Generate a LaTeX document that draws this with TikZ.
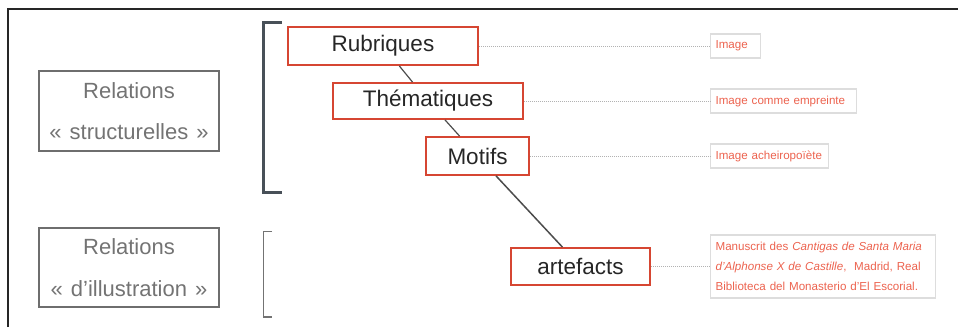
\documentclass[tikz,border=0pt]{standalone}
\usepackage{fontspec}
\setmainfont{Liberation Sans}
\usetikzlibrary{positioning}

\definecolor{boxred}{RGB}{214,70,50}
\definecolor{notered}{RGB}{236,98,78}
\definecolor{notegray}{RGB}{221,221,221}
\definecolor{relgray}{RGB}{110,110,110}
\definecolor{bracketgray}{RGB}{72,80,88}

\begin{document}
\begin{tikzpicture}[x=1pt, y=-1pt,
    % Styles
    level/.style={draw=boxred, line width=1.8pt, inner sep=0pt, minimum height=38pt, text=black!85, font=\fontsize{22.5}{26}\selectfont},
    relation/.style={draw=relgray, line width=1.5pt, minimum width=180pt, minimum height=80pt, align=center, text=black!55, font=\fontsize{22}{41.6}\selectfont},
    note/.style={draw=notegray, line width=1.2pt, anchor=west, inner xsep=5pt, inner ysep=0pt, minimum height=24pt, align=left, text=notered, font=\fontsize{11.6}{19.7}\selectfont},
    link/.style={draw=black!70, line width=1.2pt},
    dotted-link/.style={draw=black!30, line width=0.8pt, dash pattern=on 1pt off 1pt},
]
\useasboundingbox (0,0) rectangle (958,327);

% Frame
\draw[black!85, line width=1.3pt] (8,327) -- (8,9) -- (958,9);

% Relation boxes
\node[relation] (structure) at (129,111) {Relations\\«\hspace{8pt}structurelles\hspace{8pt}»};
\node[relation, minimum height=79pt] (illustration) at (129,267.5) {Relations\\«\hspace{8pt}d’illustration\hspace{8pt}»};

% Brackets
\draw[bracketgray, line width=3pt] (282,22) -- (263.5,22) -- (263.5,192) -- (282,192);
\draw[black!55, line width=1.3pt] (272,231.5) -- (263.5,231.5) -- (263.5,317) -- (272,317);

% Levels
\node[level, minimum width=190pt] (rubriques) at (383,46) {Rubriques};
\node[level, minimum width=190pt, minimum height=36pt] (thematiques) at (428,101) {Thématiques};
\node[level, minimum width=103pt] (motifs) at (477.5,156) {Motifs};
\node[level, minimum width=139pt, minimum height=37pt] (artefacts) at (580.5,266.5) {artefacts};

\draw[link] (rubriques) -- (thematiques);
\draw[link] (thematiques) -- (motifs);
\draw[link, line width=1.5pt] (motifs) -- (artefacts);

% Notes
\node[note, text width=40pt] (image) at (710,46) {Image};
\node[note, text width=136pt] (empreinte) at (710,101) {Image comme empreinte};
\node[note, text width=108pt] (acheiropoiete) at (710,156) {Image acheiropoïète};
\node[note, text width=215pt, minimum height=63pt] (manuscrit) at (710,266.5)
    {Manuscrit des \textit{Cantigas de Santa Maria}\\\textit{d'Alphonse X de Castille},~ Madrid, Real\\Biblioteca del Monasterio d'El Escorial.};

\draw[dotted-link] (rubriques) -- (image);
\draw[dotted-link] (thematiques) -- (empreinte);
\draw[dotted-link] (motifs) -- (acheiropoiete);
\draw[dotted-link] (artefacts) -- (manuscrit);

\end{tikzpicture}
\end{document}
